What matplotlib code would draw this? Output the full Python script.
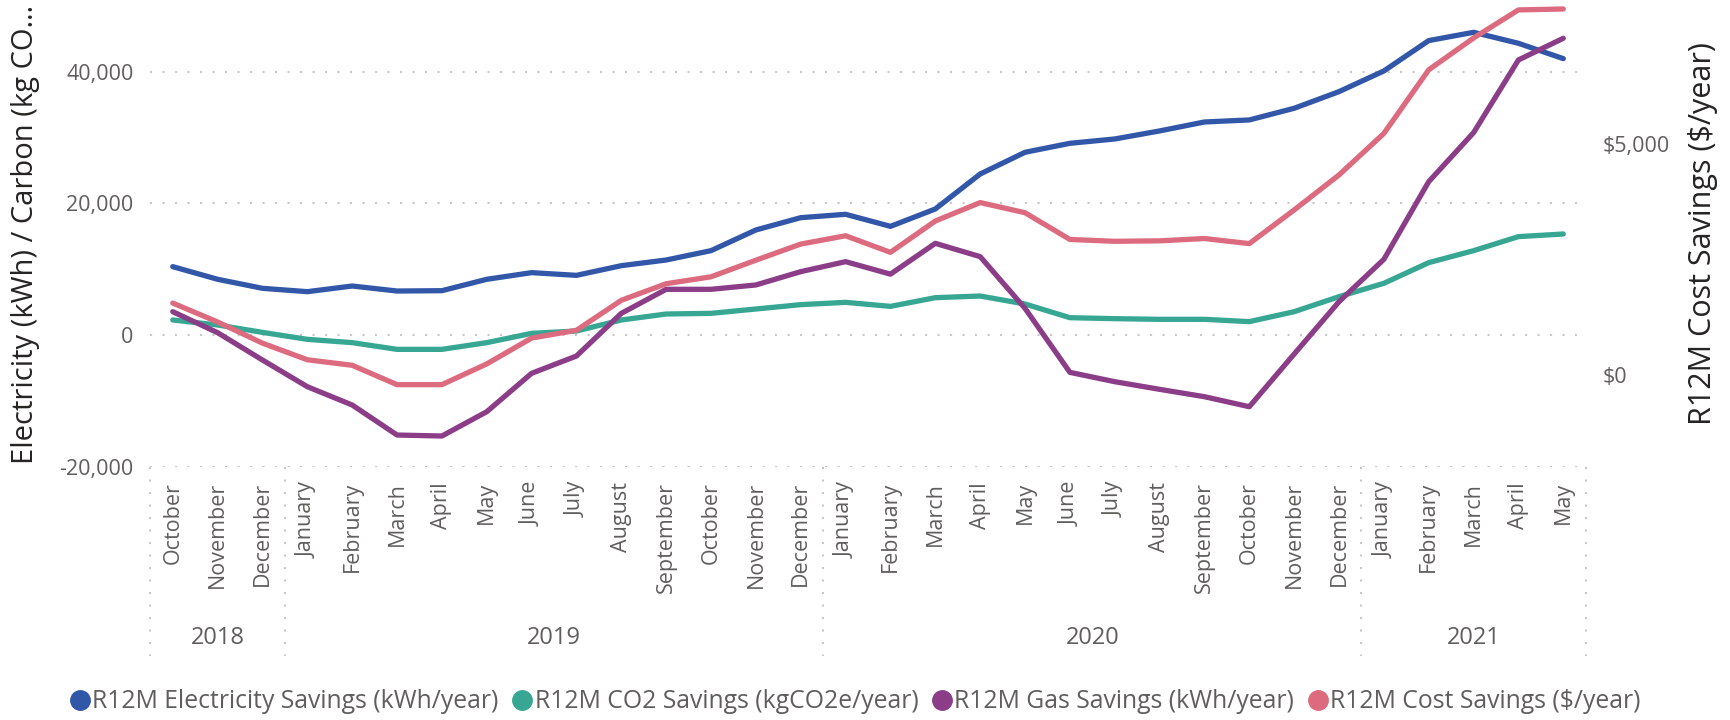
import numpy as np
import matplotlib
matplotlib.use("Agg")
import matplotlib.pyplot as plt
from matplotlib.lines import Line2D
from matplotlib.ticker import FuncFormatter
import matplotlib.transforms as mtransforms

plt.rcParams['font.family'] = ['Open Sans', 'DejaVu Sans']

# month labels, Oct 2018 .. May 2021
months = ["October", "November", "December",
          "January", "February", "March", "April", "May", "June", "July",
          "August", "September", "October", "November", "December",
          "January", "February", "March", "April", "May", "June", "July",
          "August", "September", "October", "November", "December",
          "January", "February", "March", "April", "May"]
years = ["2018", "2019", "2020", "2021"]
months_per_year = [3, 12, 12, 5]

electricity = [10380, 8460, 7090,
               6580, 7440, 6680, 6730, 8460, 9470, 9060, 10530, 11390, 12810, 15950, 17820,
               18330, 16500, 19140, 24450, 27750, 29110, 29770, 30990, 32350, 32660, 34430, 36960,
               40100, 44710, 45970, 44300, 41970]
co2 = [2280, 1520, 400,
       -660, -1160, -2180, -2180, -1160, 250, 610, 2280, 3190, 3290, 3950, 4610,
       4960, 4350, 5670, 5920, 4710, 2630, 2480, 2380, 2380, 2030, 3540, 5820,
       7850, 10990, 12810, 14940, 15340]
gas = [3540, 350, -3800,
       -7850, -10630, -15190, -15340, -11650, -5820, -3190, 3290, 6940, 6940, 7600, 9620,
       11140, 9240, 13920, 11900, 4050, -5670, -7090, -8250, -9370, -10890, -2890, 5060,
       11490, 23290, 30730, 41770, 45060]
cost = [1550, 1140, 680,
        320, 200, -220, -220, 230, 790, 960, 1610, 1970, 2120, 2480, 2830,
        3010, 2650, 3330, 3730, 3510, 2930, 2890, 2900, 2950, 2840, 3570, 4330,
        5230, 6610, 7300, 7910, 7930]

series_names = ["R12M Electricity Savings (kWh/year)", "R12M CO2 Savings (kgCO2e/year)",
                "R12M Gas Savings (kWh/year)", "R12M Cost Savings ($/year)"]
colors = ["#3257A8", "#37A794", "#8B3D88", "#DD6B7F"]

label_grey = "#605E5C"
title_dark = "#252423"
grid_grey = "#C8C8C8"

fig = plt.figure(figsize=(17.3, 7.2), dpi=100)
ax = fig.add_axes([0.0869, 0.3518, 0.8297, 0.6402])
ax2 = ax.twinx()

x = np.arange(len(months))
lw = 3.8
ax.plot(x, electricity, color=colors[0], lw=lw, solid_capstyle='round', solid_joinstyle='round')
ax.plot(x, co2, color=colors[1], lw=lw, solid_capstyle='round', solid_joinstyle='round')
ax.plot(x, gas, color=colors[2], lw=lw, solid_capstyle='round', solid_joinstyle='round')
ax2.plot(x, cost, color=colors[3], lw=lw, solid_capstyle='round', solid_joinstyle='round')

ax.set_xlim(-0.5, len(months) - 0.5)
ax.set_ylim(-20000, 50000)
ax2.set_ylim(-2000, 8000)

ax.set_yticks([-20000, 0, 20000, 40000])
ax.yaxis.set_major_formatter(FuncFormatter(lambda v, p: f"{v:,.0f}"))
ax2.set_yticks([0, 5000])
ax2.yaxis.set_major_formatter(FuncFormatter(lambda v, p: f"${v:,.0f}"))

ax.grid(axis='y', color=grid_grey, linestyle=(0, (1, 5)), linewidth=1.5)
ax.set_axisbelow(True)

for a in (ax, ax2):
    for s in a.spines.values():
        s.set_visible(False)

ax.tick_params(axis='y', length=0, pad=12, labelsize=15.5, labelcolor=label_grey)
ax2.tick_params(axis='y', length=0, pad=12, labelsize=15.5, labelcolor=label_grey)

ax.set_xticks(x)
ax.set_xticklabels(months, rotation=90, ha='center', va='top')
ax.tick_params(axis='x', length=0, pad=11, labelsize=15.5, labelcolor=label_grey)

ax.set_ylabel("Electricity (kWh) / Carbon (kg CO\u2026", fontsize=21, color=title_dark)
ax.yaxis.set_label_coords(-0.077, 0.503)
ax2.set_ylabel("R12M Cost Savings ($/year)", fontsize=22, color=title_dark, rotation=90)
ax2.yaxis.set_label_coords(1.0713, 0.506)

# year groups under the month labels
trans = mtransforms.blended_transform_factory(ax.transData, ax.transAxes)
start = -0.5
bounds = [start]
for y, n in zip(years, months_per_year):
    end = start + n
    ax.text((start + end) / 2, -0.372, y, transform=trans, ha='center', va='center',
            fontsize=17, color=label_grey, family=['Liberation Sans Narrow', 'Open Sans'])
    bounds.append(end)
    start = end
for b in bounds:
    ax.plot([b, b], [0, -0.41], transform=trans, color=grid_grey,
            linestyle=(0, (1, 5)), linewidth=1.5, clip_on=False)

handles = [Line2D([], [], marker='o', linestyle='none', markersize=14,
                  markerfacecolor=c, markeredgecolor=c) for c in colors]
fig.legend(handles, series_names, loc='center', bbox_to_anchor=(0.494, 0.025), ncol=4,
           frameon=False, fontsize=17.8, labelcolor=label_grey, handletextpad=0.05,
           columnspacing=0.5, handlelength=0.9, borderaxespad=0)

fig.savefig("out.png", dpi=100)
